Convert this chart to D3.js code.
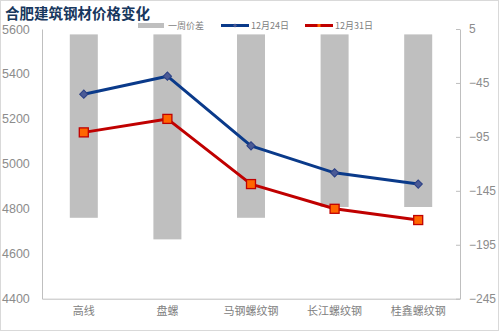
<!DOCTYPE html>
<html><head><meta charset="utf-8">
<script src="https://cdn.jsdelivr.net/npm/d3@7"></script>
<style>
html,body{margin:0;padding:0;background:#fff;}
svg{display:block;}
</style></head>
<body>
<div id="chart"></div>
<script>
const title = "合肥建筑钢材价格变化";
const categories = ["高线", "盘螺", "马钢螺纹钢", "长江螺纹钢", "桂鑫螺纹钢"];
const price1224 = [5310, 5390, 5080, 4960, 4910];
const price1231 = [5140, 5200, 4910, 4800, 4750];
const weekDiff = [-170, -190, -170, -160, -160];
const leftTicks = [4400, 4600, 4800, 5000, 5200, 5400, 5600];
const rightTicks = [-245, -195, -145, -95, -45, 5];
const seriesNames = ["一周价差", "12月24日", "12月31日"];

(function () {
const W = 499, H = 331;
const svg = d3.select("#chart").append("svg").attr("width", W).attr("height", H);
const numFont = "'Liberation Sans', Arial, sans-serif";
const cjkFont = "'Noto Sans CJK SC', sans-serif";

svg.append("rect").attr("x", 0.5).attr("y", 0.5).attr("width", W - 1).attr("height", H - 1)
  .attr("fill", "#fff").attr("stroke", "#d9d9d9");

const pLeft = 42, pRight = 460, pTop = 29, pBottom = 298.7;
const x = d3.scaleBand().domain(categories).range([pLeft, pRight]).paddingInner(0).paddingOuter(0);
const yL = d3.scaleLinear().domain([4400, 5600]).range([pBottom, pTop]);
const yR = d3.scaleLinear().domain([-245, 5]).range([pBottom, pTop]);
const cx = i => x(categories[i]) + x.bandwidth() / 2;

// bars
svg.append("g").selectAll("rect").data(weekDiff).join("rect")
  .attr("x", (d, i) => cx(i) - 14)
  .attr("width", 28)
  .attr("y", d => yR(Math.max(0, d)))
  .attr("height", d => Math.abs(yR(d) - yR(0)))
  .attr("fill", "#bfbfbf");

// left axis
const gL = svg.append("g").attr("transform", `translate(${pLeft},0)`)
  .call(d3.axisLeft(yL).tickValues(leftTicks).tickSize(0).tickPadding(12).tickFormat(d3.format("d")));
gL.select(".domain").attr("stroke", "#bfbfbf");
gL.selectAll("text").attr("font-family", numFont).attr("font-size", 12.5).attr("fill", "#8c8c8c")
  .attr("text-anchor", "start").attr("x", -40);

// right axis
const gR = svg.append("g").attr("transform", `translate(${pRight},0)`)
  .call(d3.axisRight(yR).tickValues(rightTicks).tickSizeInner(-4).tickSizeOuter(0).tickPadding(9)
    .tickFormat(d => d < 0 ? "\u2212" + Math.abs(d) : String(d)));
gR.select(".domain").attr("stroke", "#bfbfbf");
gR.selectAll("line").attr("stroke", "#bfbfbf");
gR.selectAll("text").attr("font-family", numFont).attr("font-size", 12).attr("fill", "#8c8c8c");

// x axis
const gX = svg.append("g").attr("transform", `translate(0,${pBottom})`)
  .call(d3.axisBottom(x).tickSize(0).tickPadding(9));
gX.select(".domain").attr("stroke", "#bfbfbf");
gX.selectAll("text").attr("font-family", cjkFont).attr("font-size", 11).attr("fill", "#808080");

const blue = "#0a3a8a", red = "#c00000";
const line = d3.line().x((d, i) => cx(i)).y(d => yL(d));
svg.append("path").datum(price1224).attr("d", line)
  .attr("fill", "none").attr("stroke", blue).attr("stroke-width", 3).attr("stroke-linejoin", "round");
svg.append("path").datum(price1231).attr("d", line)
  .attr("fill", "none").attr("stroke", red).attr("stroke-width", 3).attr("stroke-linejoin", "round");

svg.append("g").selectAll("path").data(price1224).join("path")
  .attr("d", d3.symbol().type(d3.symbolSquare).size(34)())
  .attr("transform", (d, i) => `translate(${cx(i)},${yL(d)}) rotate(45)`)
  .attr("fill", "#4a5a95").attr("stroke", "#2a3f85").attr("stroke-width", 1);
svg.append("g").selectAll("rect").data(price1231).join("rect")
  .attr("x", (d, i) => cx(i) - 4.5)
  .attr("y", d => yL(d) - 4.5)
  .attr("width", 9).attr("height", 9)
  .attr("fill", "#ff6600").attr("stroke", red).attr("stroke-width", 1.3);

// title
svg.append("text").attr("x", 5).attr("y", 19).text(title)
  .attr("font-family", cjkFont).attr("font-weight", 700).attr("font-size", 14.5).attr("fill", "#17375e");

// legend
const lg = svg.append("g").attr("font-family", cjkFont).attr("font-size", 9).attr("fill", "#808080");
const ly = 25.5;
lg.append("rect").attr("x", 138).attr("y", ly - 2.5).attr("width", 26).attr("height", 5).attr("fill", "#bfbfbf");
lg.append("text").attr("x", 168).attr("y", ly + 3.5).text(seriesNames[0]);
lg.append("line").attr("x1", 221).attr("x2", 249).attr("y1", ly).attr("y2", ly).attr("stroke", blue).attr("stroke-width", 3);
lg.append("path").attr("d", d3.symbol().type(d3.symbolSquare).size(8)())
  .attr("transform", `translate(235,${ly}) rotate(45)`).attr("fill", "#4a5a95");
lg.append("text").attr("x", 251).attr("y", ly + 3.5).text(seriesNames[1]);
lg.append("line").attr("x1", 305).attr("x2", 333).attr("y1", ly).attr("y2", ly).attr("stroke", red).attr("stroke-width", 3);
lg.append("rect").attr("x", 317.5).attr("y", ly - 1.5).attr("width", 3).attr("height", 3).attr("fill", "#ff6600");
lg.append("text").attr("x", 335).attr("y", ly + 3.5).text(seriesNames[2]);
})();
</script>
</body></html>
